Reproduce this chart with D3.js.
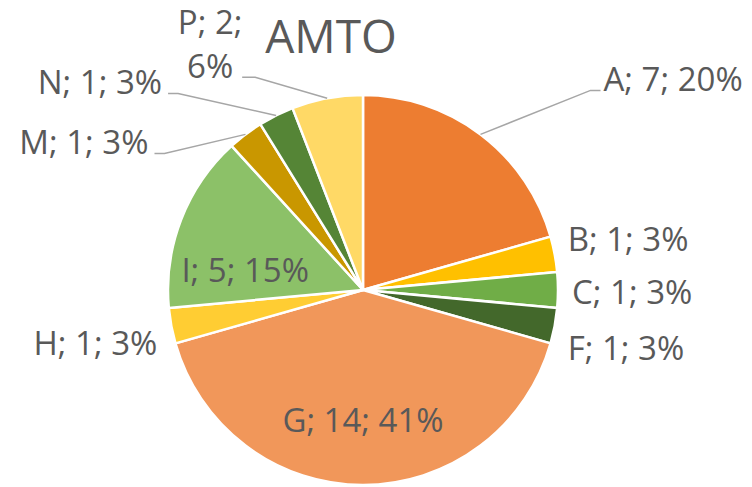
<!DOCTYPE html>
<html>
<head>
<meta charset="utf-8">
<script src="https://cdn.jsdelivr.net/npm/d3@7"></script>
<style>
  body { margin: 0; background: #fff; }
  text { font-family: "Open Sans", sans-serif; fill: #595959; }
</style>
</head>
<body>
<div id="chart-container"></div>
<script>
// data
let categories = ["A", "B", "C", "F", "G", "H", "I", "M", "N", "P"],
    values = [7, 1, 1, 1, 14, 1, 5, 1, 1, 2],
    percentLabels = ["20%", "3%", "3%", "3%", "41%", "3%", "15%", "3%", "3%", "6%"],
    colors = ["#ED7D31", "#FFC000", "#70AD47", "#43682B", "#F1975A",
              "#FFCD33", "#8CC168", "#C99700", "#558536", "#FFD966"],
    title = "AMTO";

let width = 752, height = 487,
    cx = 363, cy = 290, radius = 195;

// label placement (offset from the slice edge point / centroid), like Excel's best fit
let labelLayout = {
  A: { side: "out", anchor: "start", dx: 123, dy: -43, leader: true },
  B: { side: "out", anchor: "start", dx: 13, dy: -3 },
  C: { side: "out", anchor: "start", dx: 14, dy: 14 },
  F: { side: "out", anchor: "start", dx: 13, dy: 34 },
  G: { side: "in", anchor: "middle", dx: 0, dy: 11 },
  H: { side: "out", anchor: "end", dx: -14, dy: 29 },
  I: { side: "in", anchor: "middle", dx: 4, dy: 39 },
  M: { side: "out", anchor: "end", dx: -97, dy: 20, leader: true },
  N: { side: "out", anchor: "end", dx: -114, dy: -21, leader: true },
  P: { side: "out", anchor: "middle", dx: -117, dy: -20, leader: true, wrap: true }
};

let svg = d3.select("#chart-container").append("svg")
    .attr("width", width).attr("height", height),
  g = svg.append("g").attr("transform", `translate(${cx},${cy})`);

let data = categories.map((c, i) => ({ name: c, value: values[i], pct: percentLabels[i], color: colors[i] }));

let pie = d3.pie().sort(null).value(d => d.value),
    arc = d3.arc().innerRadius(0).outerRadius(radius),
    edgeArc = d3.arc().innerRadius(radius).outerRadius(radius),
    inArc = d3.arc().innerRadius(radius * 0.67).outerRadius(radius * 0.67);

let arcs = pie(data);

g.selectAll("path.slice")
  .data(arcs)
  .enter().append("path")
  .attr("class", "slice")
  .attr("d", arc)
  .attr("fill", d => d.data.color)
  .attr("stroke", "#fff")
  .attr("stroke-width", 2.5)
  .attr("stroke-linejoin", "round");

arcs.forEach(d => {
  let L = labelLayout[d.data.name],
      p = L.side == "in" ? inArc.centroid(d) : edgeArc.centroid(d),
      x = p[0] + L.dx,
      y = p[1] + L.dy,
      txt = `${d.data.name}; ${d.data.value}; ${d.data.pct}`;

  let t = g.append("text")
    .attr("x", x).attr("y", y)
    .attr("text-anchor", L.anchor)
    .attr("font-size", 33);

  let endX;
  if (L.wrap) {
    t.append("tspan").attr("x", x).attr("dy", -44).text(`${d.data.name}; ${d.data.value};`);
    t.append("tspan").attr("x", x).attr("dy", 44).text(d.data.pct);
    endX = x + 27;
  } else {
    t.text(txt);
  }

  if (L.leader) {
    let ly = y - 1, x1, x2;
    if (L.anchor == "start") { x2 = x - 3; x1 = x - 13; }
    else if (L.anchor == "end") { x2 = x + 6; x1 = x + 16; }
    else { x2 = endX + 5; x1 = endX + 18; }
    g.append("path")
      .attr("d", d3.line()([p, [x1, ly], [x2, ly]]))
      .attr("fill", "none")
      .attr("stroke", "#A6A6A6")
      .attr("stroke-width", 1.5);
  }
});

svg.append("text")
  .attr("x", 331).attr("y", 53)
  .attr("text-anchor", "middle")
  .attr("font-size", 46)
  .text(title);
</script>
</body>
</html>
